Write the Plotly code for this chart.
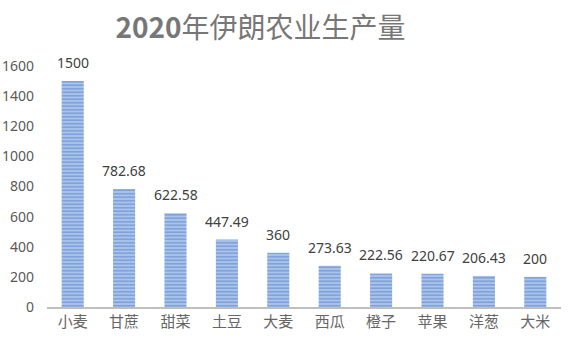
import plotly.graph_objects as go

categories = ["小麦", "甘蔗", "甜菜", "土豆", "大麦", "西瓜", "橙子", "苹果", "洋葱", "大米"]
values = [1500, 782.68, 622.58, 447.49, 360, 273.63, 222.56, 220.67, 206.43, 200]
value_labels = ["1500", "782.68", "622.58", "447.49", "360", "273.63", "222.56", "220.67", "206.43", "200"]
y_ticks = [0, 200, 400, 600, 800, 1000, 1200, 1400, 1600]

W, H = 572, 342
fig = go.Figure()
fig.add_trace(go.Bar(
    x=categories,
    y=values,
    marker=dict(
        color="#b4cbee",
        line=dict(width=0),
        pattern=dict(shape="-", fgcolor="#4f7cc6", bgcolor="#b4cbee", size=3.5, solidity=0.6),
    ),
    hoverinfo="x+y",
))

for c, v, t in zip(categories, values, value_labels):
    fig.add_annotation(
        x=c, y=v, text=t, showarrow=False, yanchor="bottom", yshift=7,
        font=dict(family="Noto Sans, Open Sans, sans-serif", size=14, color="#404040"),
    )

fig.update_layout(
    width=W, height=H,
    margin=dict(l=47, r=11, t=66, b=35),
    paper_bgcolor="white", plot_bgcolor="white",
    bargap=0.57,
    showlegend=False,
    title=dict(
        text="<b>2020</b>年伊朗农业生产量",
        x=260.5 / W, xanchor="center", xref="container",
        y=1 - 28 / H, yanchor="middle", yref="container",
        font=dict(family="Noto Sans CJK SC, Noto Sans, sans-serif", size=28, color="#777777"),
    ),
    xaxis=dict(
        showline=True, linecolor="#bfbfbf", linewidth=1.5, automargin=False,
        ticks="", showgrid=False,
        tickfont=dict(family="Noto Sans CJK SC, sans-serif", size=15, color="#666666"),
    ),
    yaxis=dict(
        range=[0, 1600], tickvals=y_ticks, showgrid=False, zeroline=False,
        showline=False, ticks="", ticklabelstandoff=12, automargin=False,
        tickfont=dict(family="Noto Sans, Open Sans, sans-serif", size=14, color="#595959"),
    ),
)

fig.write_html("out.html")
